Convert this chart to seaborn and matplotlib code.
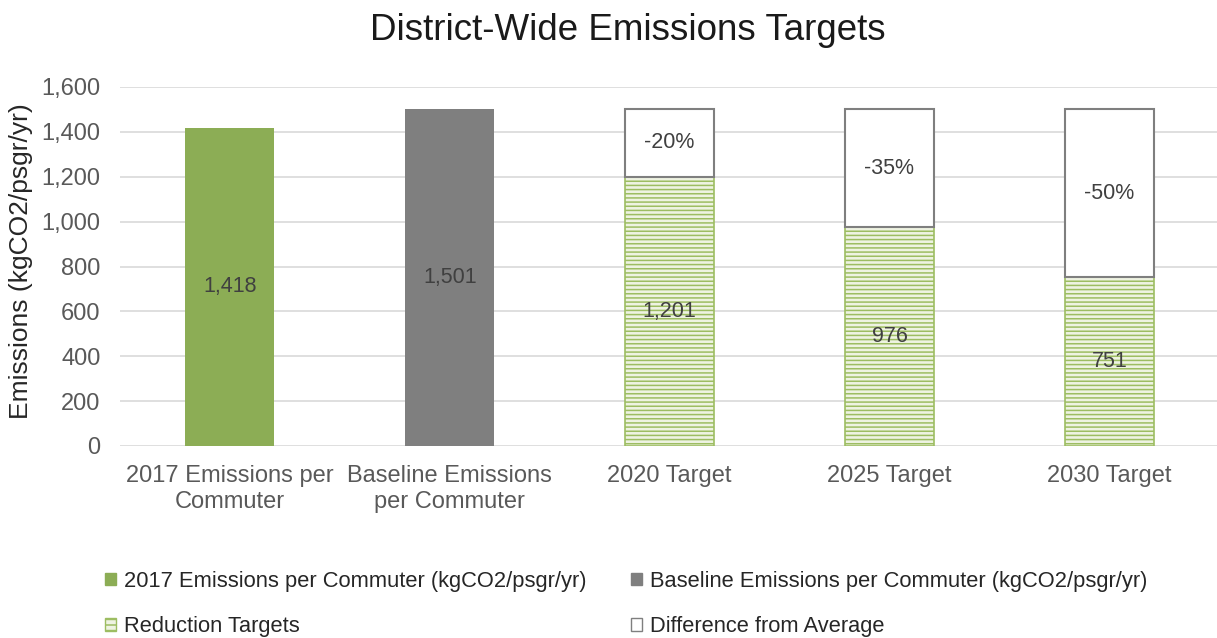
import matplotlib
matplotlib.use("Agg")
import matplotlib.pyplot as plt
from matplotlib.patches import Patch
import seaborn as sns
import pandas as pd

categories = ["2017 Emissions per\nCommuter", "Baseline Emissions\nper Commuter",
              "2020 Target", "2025 Target", "2030 Target"]
current_value = [1418]
baseline_value = [1501]
target_names = ["2020 Target", "2025 Target", "2030 Target"]
target_values = [1201, 976, 751]
difference_values = [300, 525, 750]
reduction_labels = ["-20%", "-35%", "-50%"]
y_ticks = [0, 200, 400, 600, 800, 1000, 1200, 1400, 1600]

GREEN = "#8cad55"
GREY = "#7f7f7f"
HATCH_GREEN = "#9dbd62"
HATCH_BG = "#eef3e2"
TICK_COLOR = "#595959"

sns.set_theme(style="white")
plt.rcParams["font.family"] = ["Liberation Sans", "DejaVu Sans"]
plt.rcParams["hatch.linewidth"] = 1.1

fig = plt.figure(figsize=(12.17, 6.38), dpi=100)
ax = fig.add_axes([120 / 1217, 1 - 446 / 638, 1097 / 1217, 359 / 638])

bar_w = 0.405
df_cur = pd.DataFrame({"cat": [categories[0]], "val": current_value})
df_base = pd.DataFrame({"cat": [categories[1]], "val": baseline_value})
df_tgt = pd.DataFrame({"cat": target_names, "val": target_values})
df_diff = pd.DataFrame({"cat": target_names, "val": difference_values})

sns.barplot(data=df_cur, x="cat", y="val", order=categories, color=GREEN,
            saturation=1, width=bar_w, edgecolor=GREEN, linewidth=0, ax=ax)
sns.barplot(data=df_base, x="cat", y="val", order=categories, color=GREY,
            saturation=1, width=bar_w, edgecolor=GREY, linewidth=0, ax=ax)
sns.barplot(data=df_tgt, x="cat", y="val", order=categories, color=HATCH_BG,
            saturation=1, width=bar_w, edgecolor=HATCH_GREEN, linewidth=1.2,
            hatch="----", ax=ax)
sns.barplot(data=df_diff, x="cat", y="val", order=categories, color="white",
            saturation=1, width=bar_w, edgecolor=GREY, linewidth=1.5,
            bottom=target_values, ax=ax)

containers = ax.containers
label_kw = dict(label_type="center", fontsize=15.5, color="#404040")
ax.bar_label(containers[0], labels=[f"{v:,}" for v in current_value], **label_kw)
ax.bar_label(containers[1], labels=[f"{v:,}" for v in baseline_value], **label_kw)
ax.bar_label(containers[2], labels=[f"{v:,}" for v in target_values], **label_kw)
ax.bar_label(containers[3], labels=reduction_labels, **label_kw)

ax.set_ylim(0, 1600)
ax.set_xlim(-0.5, 4.49)
ax.set_yticks(y_ticks)
ax.set_yticklabels([f"{t:,}" for t in y_ticks])
ax.yaxis.grid(True, color="#d9d9d9", linewidth=1.2)
ax.set_axisbelow(True)
for s in ax.spines.values():
    s.set_visible(False)
ax.tick_params(axis="y", length=0, pad=14, labelsize=17, labelcolor=TICK_COLOR)
ax.tick_params(axis="x", length=0, pad=14, labelsize=17, labelcolor=TICK_COLOR)
ax.set_xlabel("")
ax.set_ylabel("Emissions (kgCO2/psgr/yr)", fontsize=19, color="#262626")
ax.yaxis.set_label_coords(-0.079, 0.515)

fig.text(628 / 1217, 1 - 30 / 638, "District-Wide Emissions Targets",
         ha="center", va="center", fontsize=26.5, color="#1a1a1a")

leg_kw = dict(frameon=False, fontsize=15.75, handlelength=0.5, handleheight=0.5,
              handletextpad=0.35, labelspacing=1.1, loc="upper left",
              labelcolor="#262626", borderaxespad=0, borderpad=0)
h_col1 = [Patch(facecolor=GREEN, edgecolor=GREEN),
          Patch(facecolor=HATCH_BG, edgecolor=HATCH_GREEN, hatch="---")]
h_col2 = [Patch(facecolor=GREY, edgecolor=GREY),
          Patch(facecolor="white", edgecolor=GREY)]
fig.legend(h_col1, ["2017 Emissions per Commuter (kgCO2/psgr/yr)", "Reduction Targets"],
           bbox_to_anchor=(105 / 1217, 1 - 571 / 638), **leg_kw)
fig.legend(h_col2, ["Baseline Emissions per Commuter (kgCO2/psgr/yr)", "Difference from Average"],
           bbox_to_anchor=(631 / 1217, 1 - 571 / 638), **leg_kw)

fig.savefig("out.png", dpi=100)
